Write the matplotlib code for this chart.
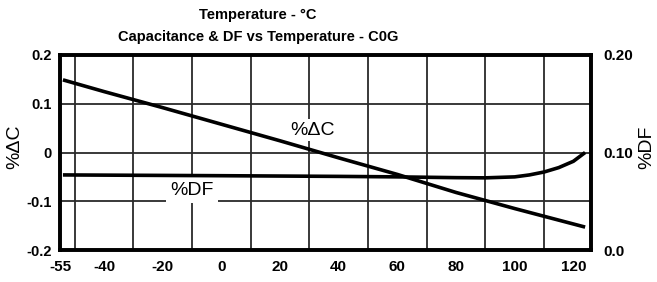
import numpy as np
import matplotlib
matplotlib.use("Agg")
import matplotlib.pyplot as plt

plt.rcParams['font.family'] = ['Liberation Sans', 'DejaVu Sans']

# ----- data -----
temp_c = [-54, -40, -20, 0, 20, 40, 60, 80, 100, 124]
cap_change = [0.149, 0.125, 0.092, 0.058, 0.024, -0.011, -0.045, -0.082, -0.115, -0.153]

temp_df = [-54, -20, 0, 40, 60, 80, 90, 100, 105, 110, 115, 120, 124]
df_pct = [0.0770, 0.0765, 0.0762, 0.0755, 0.0750, 0.0742, 0.0740, 0.0750, 0.0770, 0.0800, 0.0845, 0.0910, 0.1000]

x_labels = [-55, -40, -20, 0, 20, 40, 60, 80, 100, 120]
x_grid = list(range(-50, 121, 10))
yl_ticks = [-0.2, -0.1, 0, 0.1, 0.2]
yl_labels = ['-0.2', '-0.1', '0', '0.1', '0.2']
yr_ticks = [0.0, 0.10, 0.20]
yr_labels = ['0.0', '0.10', '0.20']

W, H = 657, 282
fig = plt.figure(figsize=(W / 100, H / 100), dpi=100)
ax = fig.add_axes([60 / W, 1 - 250 / H, (591 - 60) / W, (250 - 55) / H])

ax.set_xlim(-55, 126)
ax.set_ylim(-0.2, 0.2)
ax.set_xticks(x_labels)
ax.set_xticklabels([str(v) for v in x_labels], fontsize=11, fontweight='bold')
ax.set_xticks(x_grid, minor=True)
ax.set_yticks(yl_ticks)
ax.set_yticklabels(yl_labels, fontsize=10.5, fontweight='bold')
ax.tick_params(axis='both', which='both', length=0)
ax.tick_params(axis='x', pad=7)
ax.tick_params(axis='y', pad=6)
ax.grid(True, which='minor', axis='x', color='#2a2a2a', linewidth=1.3)
ax.grid(True, which='major', axis='y', color='#2a2a2a', linewidth=1.3)
ax.set_axisbelow(True)
for s in ax.spines.values():
    s.set_linewidth(2.6)

ax.plot(temp_c, cap_change, color='black', linewidth=2.6, solid_capstyle='butt', zorder=3)

ax.text(31, 0.046, '%\u0394C', fontsize=14, ha='center', va='center', zorder=4,
        bbox=dict(facecolor='white', edgecolor='none', pad=2))
ax.text(-10, -0.077, '%DF', fontsize=14, ha='center', va='center', zorder=4,
        bbox=dict(facecolor='white', edgecolor='none', pad=3))

ax2 = ax.twinx()
ax2.set_ylim(0.0, 0.20)
ax2.set_yticks(yr_ticks)
ax2.set_yticklabels(yr_labels, fontsize=11, fontweight='bold')
ax2.tick_params(axis='y', length=0, pad=9)
for s in ax2.spines.values():
    s.set_linewidth(2.6)
ax2.plot(temp_df, df_pct, color='black', linewidth=2.6, solid_capstyle='butt', zorder=3)

fig.text(15 / W, 1 - 147 / H, '%\u0394C', rotation=90, fontsize=14, ha='center', va='center')
fig.text(647 / W, 1 - 147 / H, '%DF', rotation=90, fontsize=14, ha='center', va='center')

fig.text(258 / W, 1 - 15 / H, 'Temperature - \u00b0C', fontsize=10.5, fontweight='bold',
         ha='center', va='center')
fig.text(258 / W, 1 - 37 / H, 'Capacitance & DF vs Temperature - C0G', fontsize=10.5,
         fontweight='bold', ha='center', va='center')

fig.savefig('out.png', dpi=100)
